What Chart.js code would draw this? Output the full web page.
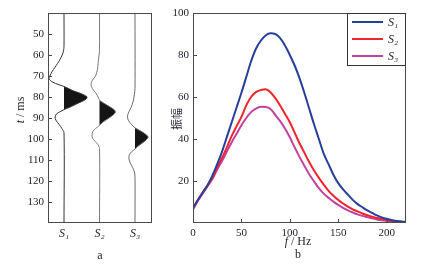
<!DOCTYPE html>
<html><head><meta charset="utf-8">
<script src="https://cdn.jsdelivr.net/npm/chart.js@4.4.1/dist/chart.umd.min.js"></script>
<style>
html,body{margin:0;padding:0;background:#fff;width:429px;height:265px;overflow:hidden}
#ca{position:absolute;left:0;top:0}
#cb{position:absolute;left:170px;top:0}
</style></head><body>
<canvas id="ca" width="170" height="265"></canvas>
<canvas id="cb" width="259" height="265"></canvas>
<script>
// ---------- data: panel a (synthetic seismic traces) ----------
const traceNames = ['S₁', 'S₂', 'S₃'];
const tracePositions = [1, 2, 3];
const timeTicks = [50, 60, 70, 80, 90, 100, 110, 120, 130];

const s1Time = [40, 56, 58, 60, 62, 64, 66, 68, 70, 71.5, 73, 74, 75, 76, 77, 78, 79, 80, 81, 82, 83, 84, 85, 86, 87, 88, 89.5, 91, 93, 95, 97, 140];
const s1Amp  = [0, 0, -0.014, -0.05, -0.11, -0.18, -0.26, -0.34, -0.40, -0.42, -0.31, -0.17, 0, 0.13, 0.25, 0.42, 0.56, 0.65, 0.62, 0.52, 0.39, 0.27, 0.14, 0, -0.11, -0.21, -0.25, -0.23, -0.14, -0.06, 0, 0];

const s2Time = [40, 58, 61, 64, 67, 70, 72, 74, 76, 78, 80, 81.5, 83, 84.5, 86, 87.2, 88.5, 90, 91.8, 93.5, 95, 96.5, 98, 99.5, 101, 102.5, 104.5, 140];
const s2Amp  = [0, 0, -0.02, -0.04, -0.06, -0.11, -0.20, -0.24, -0.20, -0.11, -0.04, 0, 0.13, 0.28, 0.41, 0.45, 0.39, 0.27, 0.11, 0, -0.11, -0.19, -0.21, -0.20, -0.13, -0.05, 0, 0];

const s3Time = [40, 76, 79, 82, 85, 87, 89, 91, 93, 94.7, 96, 97.5, 99, 100.5, 102, 103.5, 104.8, 106, 107.5, 109.5, 111.5, 113.5, 115.5, 118, 140];
const s3Amp  = [0, 0, -0.02, -0.05, -0.11, -0.17, -0.21, -0.19, -0.10, 0, 0.14, 0.28, 0.37, 0.31, 0.20, 0.08, 0, -0.09, -0.16, -0.17, -0.13, -0.07, -0.02, 0, 0];

// ---------- data: panel b (amplitude spectra) ----------
const freq = [0,5,10,15,20,25,30,35,40,45,50,55,60,65,70,75,80,85,90,95,100,105,110,115,120,125,130,135,140,145,150,155,160,165,170,175,180,185,190,195,200,205,210,215,220];
const specS1 = [7,11,14.5,18,22.5,28,34,41,48,55,62,69.5,77,83,86.8,89.3,90.3,90,88,84.5,80,75,69,62,54.5,47,40,33,28,23,19,16,13.5,11,9,7.5,6,4.8,3.6,2.7,2,1.4,1,0.7,0.5];
const specS2 = [7,11,14.5,18,21.5,26.5,31,36,41.5,46,50.5,56,60,62.3,63.3,63.7,62.3,59.5,56,52,48,43,38,33.5,29,25,21.5,18.3,15.3,13,11,9.3,7.8,6.5,5.5,4.5,3.7,3,2.4,1.9,1.5,1.1,0.8,0.6,0.5];
const specS3 = [6.5,10.5,14,17.5,21,25.5,29.5,34,38.5,42.5,46.5,50,52.8,54.5,55.3,55.2,54.3,51.5,48.5,45,40.8,36,31.5,27.3,23.2,19.8,16.6,14,12,10.2,8.6,7.2,6,5,4.1,3.4,2.8,2.2,1.7,1.3,1,0.8,0.6,0.5,0.4];
const freqTicks = [0, 50, 100, 150, 200];
const ampTicks = [20, 40, 60, 80, 100];

// ---------- styles ----------
const SERIF = "'Liberation Serif','Times New Roman',serif";
const TXT = '#1d1d2b';
const FRAME = '#4a4a4a';

// plugin: frame, inward tick marks, mixed-style texts, boxed legend
const decor = {
  id: 'decor',
  afterDatasetsDraw(chart, args, o) {
    const ctx = chart.ctx, a = chart.chartArea;
    ctx.save();
    ctx.strokeStyle = FRAME; ctx.lineWidth = 1;
    ctx.strokeRect(Math.round(a.left) + 0.5, Math.round(a.top) + 0.5,
                   Math.round(a.right - a.left) - 1, Math.round(a.bottom - a.top) - 1);
    ctx.beginPath();
    if (o.yTicks) {
      const ys = chart.scales.y;
      ys.ticks.forEach(t => {
        const p = Math.round(ys.getPixelForValue(t.value)) + 0.5;
        ctx.moveTo(a.left, p); ctx.lineTo(a.left + 4, p);
      });
    }
    if (o.xTicks) {
      const xs = chart.scales.x;
      xs.ticks.forEach(t => {
        const p = Math.round(xs.getPixelForValue(t.value)) + 0.5;
        ctx.moveTo(p, a.bottom); ctx.lineTo(p, a.bottom - 4);
      });
    }
    ctx.stroke();
    // texts
    (o.texts || []).forEach(tx => {
      ctx.save();
      ctx.translate(tx.x, tx.y);
      if (tx.rot) ctx.rotate(tx.rot);
      ctx.fillStyle = TXT;
      ctx.textBaseline = 'middle';
      let w = 0;
      tx.parts.forEach(p => { ctx.font = p.font; w += ctx.measureText(p.t).width; });
      let x = -w / 2;
      tx.parts.forEach(p => {
        ctx.font = p.font; ctx.textAlign = 'left';
        ctx.fillText(p.t, x, 0);
        x += ctx.measureText(p.t).width;
      });
      ctx.restore();
    });
    // legend
    if (o.legend) {
      const L = o.legend;
      const bx = Math.round(a.right) - L.w, by = Math.round(a.top);
      ctx.strokeStyle = '#333'; ctx.lineWidth = 1;
      ctx.strokeRect(bx + 0.5, by + 0.5, L.w - 1, L.h);
      chart.data.datasets.forEach((d, i) => {
        const yy = by + L.first + i * L.step;
        ctx.strokeStyle = d.borderColor; ctx.lineWidth = 2;
        ctx.beginPath(); ctx.moveTo(bx + 5, yy); ctx.lineTo(bx + 36, yy); ctx.stroke();
        ctx.fillStyle = TXT; ctx.font = 'italic 12px ' + SERIF;
        ctx.textAlign = 'left'; ctx.textBaseline = 'middle';
        ctx.fillText(d.label, bx + 41, yy + 1);
      });
    }
    ctx.restore();
  }
};

// ---------- panel a ----------
function traceData(times, amps, pos) {
  return times.map((t, k) => ({ x: pos + amps[k], y: t }));
}
function lobeData(times, amps, pos) {
  // positive lobe only, built from the same samples
  let first = -1, last = -1;
  amps.forEach((v, k) => { if (v > 0) { if (first < 0) first = k; last = k; } });
  const out = [];
  for (let k = first - 1; k <= last + 1; k++) out.push({ x: pos + Math.max(0, amps[k]), y: times[k] });
  return out;
}
const tracesT = [s1Time, s2Time, s3Time];
const tracesA = [s1Amp, s2Amp, s3Amp];
const traceColors = ['#333333', '#7a7a7a', '#6a6a6a'];
const dsA = [];
tracesT.forEach((tt, i) => {
  dsA.push({ data: traceData(tt, tracesA[i], tracePositions[i]), borderColor: traceColors[i], borderWidth: 1,
             pointRadius: 0, tension: 0.3, fill: false, order: 0 });
});
tracesT.forEach((tt, i) => {
  dsA.push({ data: lobeData(tt, tracesA[i], tracePositions[i]), borderColor: 'rgba(0,0,0,0)', borderWidth: 0,
             backgroundColor: '#151515', pointRadius: 0, tension: 0.3, fill: { value: tracePositions[i] }, order: 1 });
});

new Chart(document.getElementById('ca'), {
  type: 'line',
  data: { datasets: dsA },
  plugins: [decor],
  options: {
    animation: false, responsive: false, devicePixelRatio: 1, indexAxis: 'y',
    layout: { padding: { left: 0, top: 13, right: 18, bottom: 0 } },
    plugins: {
      legend: { display: false }, tooltip: { enabled: false },
      decor: {
        yTicks: true, xTicks: false,
        texts: [
          { x: 21, y: 110, rot: -Math.PI / 2, parts: [{ t: 't', font: 'italic 12px ' + SERIF }, { t: ' / ms', font: '12px ' + SERIF }] },
          { x: 100, y: 256, parts: [{ t: 'a', font: '12px ' + SERIF }] }
        ]
      }
    },
    scales: {
      x: {
        type: 'linear', position: 'bottom', min: 0.549, max: 3.479,
        grid: { display: false, drawTicks: false }, border: { display: false },
        afterBuildTicks: s => { s.ticks = tracePositions.map(v => ({ value: v })); },
        afterFit: s => { s.height = 42; s.paddingLeft = 0; s.paddingRight = 0; },
        ticks: { callback: (v, i) => traceNames[i], color: TXT, padding: 4, maxRotation: 0, autoSkip: false,
                 font: { family: SERIF, size: 12, style: 'italic' } }
      },
      y: {
        type: 'linear', reverse: true, min: 40, max: 140,
        grid: { display: false, drawTicks: false }, border: { display: false },
        afterBuildTicks: s => { s.ticks = timeTicks.map(v => ({ value: v })); },
        afterFit: s => { s.width = 48; },
        ticks: { color: TXT, padding: 4, autoSkip: false, font: { family: SERIF, size: 11 } }
      }
    }
  }
});

// ---------- panel b ----------
const specSeries = [specS1, specS2, specS3];
const specColors = ['#263f98', '#f0252c', '#c3409f'];
new Chart(document.getElementById('cb'), {
  type: 'line',
  data: {
    datasets: specSeries.map((s, i) => ({
      label: traceNames[i], data: freq.map((f, k) => ({ x: f, y: s[k] })),
      borderColor: specColors[i], borderWidth: 2, pointRadius: 0, cubicInterpolationMode: 'monotone', fill: false
    }))
  },
  plugins: [decor],
  options: {
    animation: false, responsive: false, devicePixelRatio: 1,
    layout: { padding: { left: 0, top: 13, right: 23, bottom: 0 } },
    plugins: {
      legend: { display: false }, tooltip: { enabled: false },
      decor: {
        yTicks: true, xTicks: true,
        legend: { w: 59, h: 52, first: 9, step: 17 },
        texts: [
          { x: 7, y: 119, rot: -Math.PI / 2, parts: [{ t: '振幅', font: "11px 'Noto Sans CJK SC'" }] },
          { x: 128, y: 242, parts: [{ t: 'f', font: 'italic 12px ' + SERIF }, { t: ' / Hz', font: '12px ' + SERIF }] },
          { x: 128, y: 255, parts: [{ t: 'b', font: '12px ' + SERIF }] }
        ]
      }
    },
    scales: {
      x: {
        type: 'linear', min: 0, max: 220,
        grid: { display: false, drawTicks: false }, border: { display: false },
        afterBuildTicks: s => { s.ticks = freqTicks.map(v => ({ value: v })); },
        afterFit: s => { s.height = 42; s.paddingLeft = 0; s.paddingRight = 0; },
        ticks: { color: TXT, padding: 4, maxRotation: 0, autoSkip: false, font: { family: SERIF, size: 11 } }
      },
      y: {
        type: 'linear', min: 0, max: 100,
        grid: { display: false, drawTicks: false }, border: { display: false },
        afterBuildTicks: s => { s.ticks = ampTicks.map(v => ({ value: v })); },
        afterFit: s => { s.width = 23; },
        ticks: { color: TXT, padding: 4, autoSkip: false, font: { family: SERIF, size: 11 } }
      }
    }
  }
});
</script>
</body></html>
